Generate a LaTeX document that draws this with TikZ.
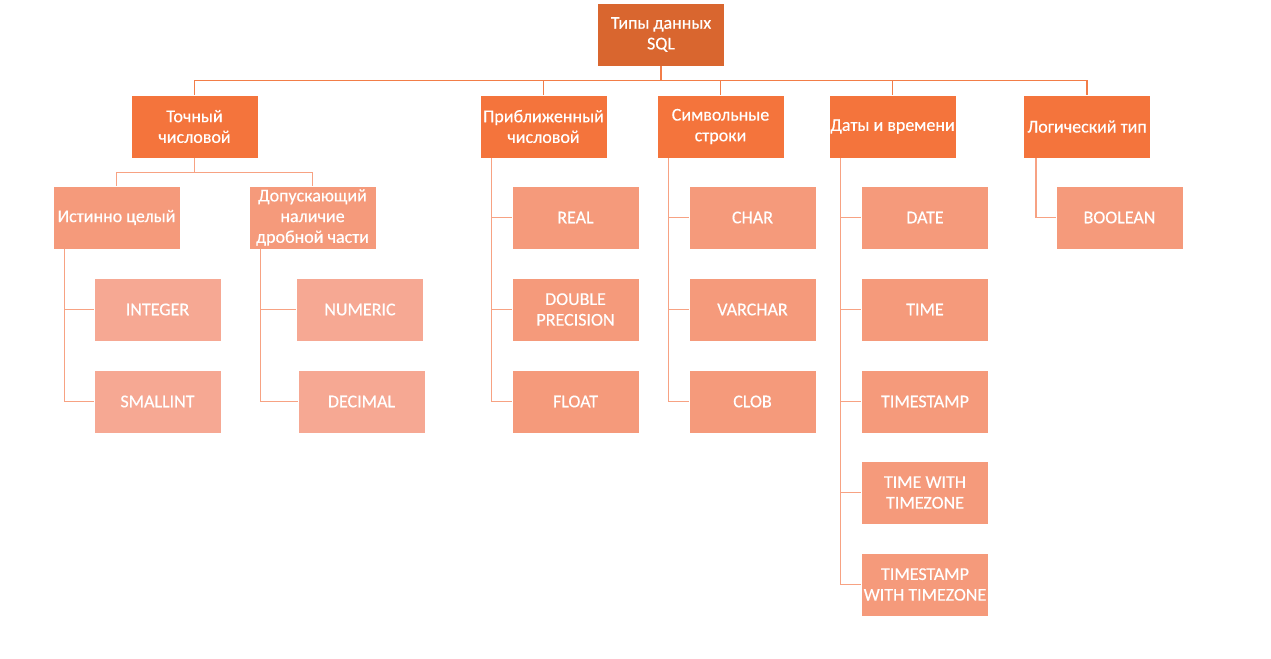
\documentclass[tikz,border=0pt]{standalone}
\usepackage{fontspec}
\setmainfont{Carlito}
\newfontfamily\boxfont{Carlito}[FakeBold=0.4]
\definecolor{rootc}{HTML}{D9662F}
\definecolor{onec}{HTML}{F4743C}
\definecolor{twoc}{HTML}{F59A7B}
\definecolor{threec}{HTML}{F6A893}
\definecolor{toplinec}{HTML}{F27D48}
\definecolor{sublinec}{HTML}{F7A283}
\begin{document}
\begin{tikzpicture}[x=0.75pt,y=-0.75pt,
  box/.style={rectangle,draw=white,line width=0.6pt,text=white,align=center,inner sep=0pt,
    minimum width=95.25pt,minimum height=47.25pt,font=\boxfont\fontsize{13.5}{15.5}\selectfont},
  rootbox/.style={box,fill=rootc},
  onebox/.style={box,fill=onec},
  twobox/.style={box,fill=twoc},
  threebox/.style={box,fill=threec},
  topline/.style={draw=toplinec,line width=1.1pt},
  subline/.style={draw=sublinec,line width=1.1pt}]
\useasboundingbox (0,0) rectangle (1271,659);
\fill[white] (0,0) rectangle (1271,659);
% root
\node[rootbox] (root) at (661,34.5) {Типы данных\\SQL};
% level one
\node[onebox] (tn) at (194.5,126.5) {Точный\\числовой};
\node[onebox] (pn) at (543.5,126.5) {Приближенный\\числовой};
\node[onebox] (ss) at (720.5,126.5) {Символьные\\строки};
\node[onebox] (dv) at (892.5,126.5) {Даты и времени};
\node[onebox] (lt) at (1087,126.5) {Логический тип};
% exact numeric
\node[twobox] (ic) at (116.5,217.5) {Истинно целый};
\node[twobox] (dd) at (312.5,217.5) {Допускающий\\наличие\\дробной части};
\node[threebox] (int) at (157.5,309.5) {INTEGER};
\node[threebox] (sml) at (157.5,401.5) {SMALLINT};
\node[threebox] (num) at (360,309.5) {NUMERIC};
\node[threebox] (dec) at (361.5,401.5) {DECIMAL};
% approximate
\node[twobox] (real) at (575.5,217.5) {REAL};
\node[twobox] (dbl) at (575.5,309.5) {DOUBLE\\PRECISION};
\node[twobox] (flt) at (575.5,401.5) {FLOAT};
% strings
\node[twobox] (chr) at (752.5,217.5) {CHAR};
\node[twobox] (vch) at (752.5,309.5) {VARCHAR};
\node[twobox] (clb) at (752.5,401.5) {CLOB};
% dates
\node[twobox] (date) at (925,217.5) {DATE};
\node[twobox] (time) at (925,309.5) {TIME};
\node[twobox] (tst) at (925,401.5) {TIMESTAMP};
\node[twobox] (twt) at (925,492.5) {TIME WITH\\TIMEZONE};
\node[twobox] (tswt) at (925,584.5) {TIMESTAMP\\WITH TIMEZONE};
% logical
\node[twobox] (bool) at (1119.5,217.5) {BOOLEAN};
% connectors root
\foreach \c in {tn,pn,ss,dv,lt}
  \draw[topline] (root.south) -- ++(0,14) -| (\c.north);
% exact numeric
\foreach \c in {ic,dd}
  \draw[subline] (tn.south) -- ++(0,14) -| (\c.north);
\foreach \c in {int,sml}
  \draw[subline] ([xshift=9pt]ic.south west) |- (\c.west);
\foreach \c in {num,dec}
  \draw[subline] ([xshift=9pt]dd.south west) |- (\c.west);
\foreach \c in {real,dbl,flt}
  \draw[subline] ([xshift=9pt]pn.south west) |- (\c.west);
\foreach \c in {chr,vch,clb}
  \draw[subline] ([xshift=9pt]ss.south west) |- (\c.west);
\foreach \c in {date,time,tst,twt,tswt}
  \draw[subline] ([xshift=9pt]dv.south west) |- (\c.west);
\draw[subline] ([xshift=9.5pt]lt.south west) |- (bool.west);
\end{tikzpicture}
\end{document}
